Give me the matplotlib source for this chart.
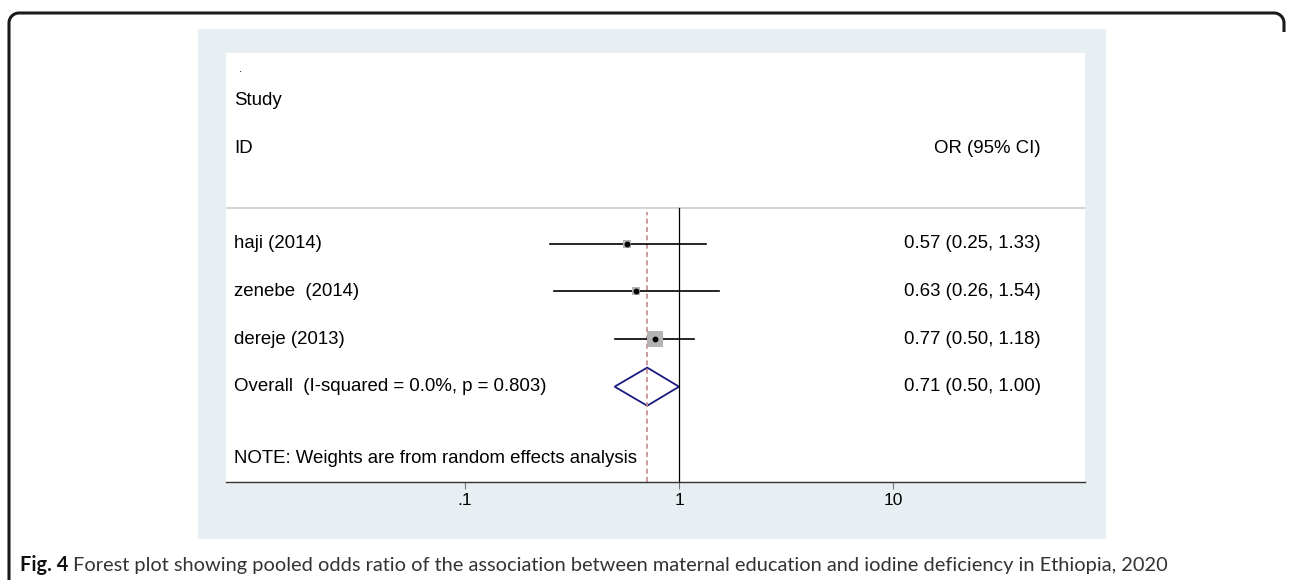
import numpy as np
import matplotlib
matplotlib.use("Agg")
import matplotlib.pyplot as plt
from matplotlib.patches import Rectangle, Polygon
from matplotlib.transforms import blended_transform_factory

# data
studies = ["haji (2014)", "zenebe  (2014)", "dereje (2013)"]
odds = [0.57, 0.63, 0.77]
ci_lo = [0.25, 0.26, 0.50]
ci_hi = [1.33, 1.54, 1.18]
weights = [16.0, 14.0, 70.0]  # relative box sizes (estimated)
overall_label = "Overall  (I-squared = 0.0%, p = 0.803)"
overall = [0.71, 0.50, 1.00]
tick_vals = [0.1, 1, 10]
tick_labels = [".1", "1", "10"]
note = "NOTE: Weights are from random effects analysis"
caption_bold = "Fig. 4"
caption = ("Forest plot showing pooled odds ratio of the association between "
           "maternal education and iodine deficiency in Ethiopia, 2020")

W, H = 1292, 580
FONT = "Liberation Sans"
fs = 13.4

fig = plt.figure(figsize=(W / 100, H / 100), dpi=100)

# background layer in pixel coords: blue panel + article frame
bg = fig.add_axes([0, 0, 1, 1])
bg.set_xlim(0, W)
bg.set_ylim(H, 0)
bg.axis("off")
bg.add_patch(Rectangle((198, 29), 908, 510, color="#e8eff2", lw=0))

r = 10
a1 = np.linspace(np.pi, np.pi / 2, 20)
a2 = np.linspace(np.pi / 2, 0, 20)
fx = np.concatenate([[9], 9 + r + r * np.cos(a1), 1284 - r + r * np.cos(a2), [1284]])
fy = np.concatenate([[H], 13 + r - r * np.sin(a1), 13 + r - r * np.sin(a2), [32]])
bg.plot(fx, fy, color="#1a1a1a", lw=2.2, solid_capstyle="butt")

# main plot region
ax = fig.add_axes([226 / W, (H - 482) / H, 859 / W, 429 / H])
ax.set_facecolor("white")
ax.set_xscale("log")
ax.set_xlim(10 ** -2.117, 10 ** 1.897)
ax.set_ylim(-2, 7)
for s in ["left", "top", "right"]:
    ax.spines[s].set_visible(False)
ax.spines["bottom"].set_color("#333333")
ax.spines["bottom"].set_linewidth(1.0)
ax.set_yticks([])
ax.set_xticks(tick_vals)
ax.set_xticklabels(tick_labels, fontsize=12.5, family=FONT)
ax.xaxis.set_minor_locator(matplotlib.ticker.NullLocator())
ax.tick_params(axis="x", direction="out", length=5, width=0.8, color="#777777", pad=3)

sep = 3.75
ax.axhline(sep, color="#cccccc", lw=1.2)
ax.plot([1, 1], [-2, sep], color="black", lw=0.9)
ax.plot([overall[0]] * 2, [-2, sep - 0.08], color="#c48a8a", lw=1.2, ls=(0, (3, 2)))

trans = blended_transform_factory(ax.transAxes, ax.transData)
ypos = [3, 2, 1]
for name, o, lo, hi, w, y in zip(studies, odds, ci_lo, ci_hi, weights, ypos):
    ax.plot([lo, hi], [y, y], color="black", lw=1.2)
    ax.plot(o, y, marker="s", ms=1.4 * np.sqrt(w), color="#b3b3b3", mew=0)
    ax.plot(o, y, marker="o", ms=3.2, color="black")
    ax.text(0.0093, y, name, transform=trans, va="center", ha="left", fontsize=fs, family=FONT)
    ax.text(0.9488, y, f"{o:.2f} ({lo:.2f}, {hi:.2f})", transform=trans,
            va="center", ha="right", fontsize=fs, family=FONT)

o, lo, hi = overall
ax.add_patch(Polygon([(lo, 0), (o, 0.4), (hi, 0), (o, -0.4)], closed=True,
                     fill=False, edgecolor="#1a1a80", lw=1.3))
ax.text(0.0093, 0, overall_label, transform=trans, va="center", ha="left", fontsize=fs, family=FONT)
ax.text(0.9488, 0, f"{o:.2f} ({lo:.2f}, {hi:.2f})", transform=trans,
        va="center", ha="right", fontsize=fs, family=FONT)

# headers
ax.text(0.015, 6.67, ".", transform=trans, va="center", ha="left", fontsize=8, family=FONT)
ax.text(0.0093, 6, "Study", transform=trans, va="center", ha="left", fontsize=fs, family=FONT)
ax.text(0.0093, 5, "ID", transform=trans, va="center", ha="left", fontsize=fs, family=FONT)
ax.text(0.9488, 5, "OR (95% CI)", transform=trans, va="center", ha="right", fontsize=fs, family=FONT)
ax.text(0.0093, -1.5, note, transform=trans, va="center", ha="left", fontsize=fs, family=FONT)

# caption
t = bg.text(20, 565, caption_bold, fontsize=14.4, weight="bold", family="Lato",
            va="center", ha="left", color="#111111")
fig.canvas.draw()
bb = t.get_window_extent()
bg.text(bb.x1 + 5, 565, caption, fontsize=14.4, family="Lato",
        va="center", ha="left", color="#333333")

fig.savefig("out.png", dpi=100)
